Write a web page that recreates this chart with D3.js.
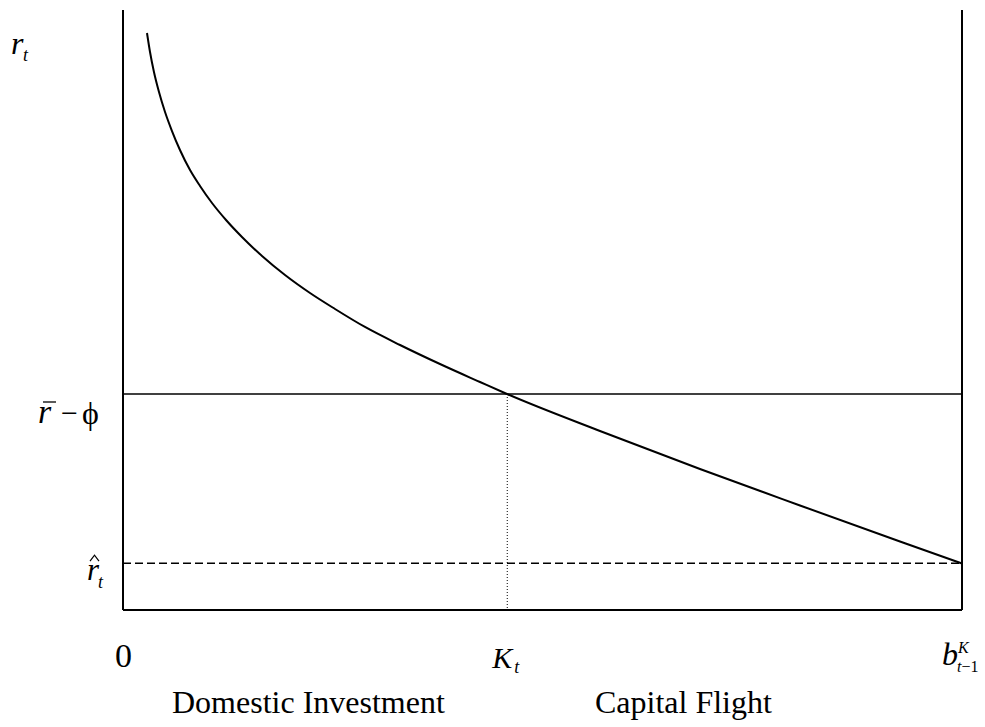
<!DOCTYPE html>
<html>
<head>
<meta charset="utf-8">
<script src="https://cdn.jsdelivr.net/npm/d3@7"></script>
<style>
    body { margin: 0; background: #fff; }
    text { font-family: "Liberation Serif", "Times New Roman", serif; fill: #000; }
</style>
</head>
<body>
<svg id="chart"></svg>
<script>
// curve: capital flight schedule (x: 0..b, y: 0..top)
const curveX = [2.86, 3.22, 3.69, 4.29, 5.01, 5.84, 6.79, 7.99, 9.18, 10.61, 12.28, 14.18, 16.57, 19.31, 22.29, 25.27, 28.84, 33.02, 37.78, 42.55, 45.77, 56.85, 68.77, 80.69, 92.61, 100];
const curveY = [96.17, 93.0, 89.67, 86.33, 83.0, 79.83, 76.67, 73.33, 70.67, 67.83, 65.0, 62.17, 59.0, 55.83, 52.83, 50.17, 47.17, 44.17, 41.0, 38.0, 36.0, 29.83, 23.5, 17.42, 11.42, 7.75];

const rBarMinusPhi = 36.0;   // horizontal solid line
const rHat = 7.8;            // dashed line
const kT = 45.8;             // dotted vertical
const xMax = 100;
const yMax = 100;

const bottomLabels = ["Domestic Investment", "Capital Flight"];

(function () {
    const width = 985;
    const height = 727;

    const svg = d3.select("#chart")
        .attr("width", width)
        .attr("height", height);

    const x = d3.scaleLinear().domain([0, xMax]).range([123, 962]);
    const y = d3.scaleLinear().domain([0, yMax]).range([610, 10]);

    const line = (x1, y1, x2, y2) => svg.append("line")
        .attr("x1", x1).attr("y1", y1)
        .attr("x2", x2).attr("y2", y2)
        .attr("stroke", "#000");

    // frame: left axis, bottom axis, right wall
    line(x(0), y(yMax), x(0), y(0)).attr("stroke-width", 2);
    line(x(0), y(0), x(xMax), y(0)).attr("stroke-width", 2);
    line(x(xMax), y(yMax), x(xMax), y(0)).attr("stroke-width", 2);

    // r bar - phi
    line(x(0), y(rBarMinusPhi), x(xMax), y(rBarMinusPhi)).attr("stroke-width", 1.5);

    // r hat (dashed)
    line(x(0), y(rHat), x(xMax), y(rHat))
        .attr("stroke-width", 1.5)
        .attr("stroke-dasharray", "8,4");

    // K_t dotted drop line
    line(x(kT), y(rBarMinusPhi), x(kT), y(0))
        .attr("stroke-width", 1)
        .attr("stroke-dasharray", "1,2");

    const pts = curveX.map((v, i) => [v, curveY[i]]);
    svg.append("path")
        .datum(pts)
        .attr("fill", "none")
        .attr("stroke", "#000")
        .attr("stroke-width", 2)
        .attr("d", d3.line()
            .x(d => x(d[0]))
            .y(d => y(d[1]))
            .curve(d3.curveMonotoneX));

    // labels
    const label = (tx, ty, size, italic) => svg.append("text")
        .attr("x", tx).attr("y", ty)
        .style("font-size", size + "px")
        .style("font-style", italic ? "italic" : "normal");

    // r_t on the y axis
    label(11, 54, 32, true).text("r");
    label(23, 61, 18, true).text("t");

    // r bar - phi
    const yb = y(rBarMinusPhi);
    label(38, yb + 29, 34, true).text("r");
    line(43, yb + 8, 56, yb + 8).attr("stroke-width", 1.3);
    label(61, yb + 29, 30, false).text("\u2212");
    label(82, yb + 30, 32, false).text("\u03D5");

    // r hat
    const yh = y(rHat);
    label(87, yh + 17, 31, true).text("r");
    svg.append("path")
        .attr("d", `M${90},${yh - 2}L${94.5},${yh - 8}L${99},${yh - 2}`)
        .attr("fill", "none")
        .attr("stroke", "#000")
        .attr("stroke-width", 1.2);
    label(98, yh + 25, 18, true).text("t");

    // x axis marks
    label(x(0) - 8, 667, 34, false).text("0");
    label(x(kT) - 15, 668, 30, true).text("K");
    label(x(kT) + 7, 673, 18, true).text("t");
    label(x(xMax) - 20, 665, 32, true).text("b");
    label(x(xMax) - 4, 653, 16, true).text("K");
    const sub = label(x(xMax) - 5, 672, 16, true);
    sub.append("tspan").text("t");
    sub.append("tspan").style("font-style", "normal").text("\u22121");

    label(172, 713, 32, false).text(bottomLabels[0]);
    label(595, 713, 32, false).text(bottomLabels[1]);
})();
</script>
</body>
</html>
